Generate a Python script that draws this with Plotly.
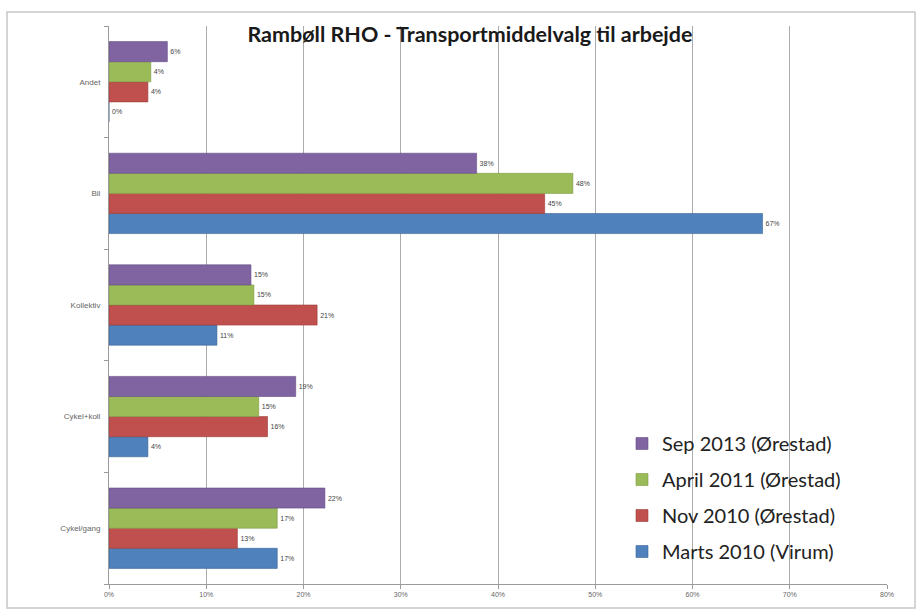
import plotly.graph_objects as go

categories = ["Cykel/gang", "Cykel+koll", "Kollektiv", "Bil", "Andet"]
series_names = ["Marts 2010 (Virum)", "Nov 2010 (Ørestad)", "April 2011 (Ørestad)", "Sep 2013 (Ørestad)"]
marts_2010 = [0.173, 0.040, 0.111, 0.672, 0.000]
nov_2010 = [0.132, 0.163, 0.214, 0.448, 0.040]
april_2011 = [0.173, 0.154, 0.149, 0.477, 0.043]
sep_2013 = [0.222, 0.192, 0.146, 0.378, 0.060]
x_ticks = [0, 0.1, 0.2, 0.3, 0.4, 0.5, 0.6, 0.7, 0.8]

series_values = [marts_2010, nov_2010, april_2011, sep_2013]
colors = ["#4F81BD", "#C0504D", "#9BBB59", "#8064A2"]
edges = ["#3A6496", "#9C3B38", "#7D9A44", "#654E84"]

fig = go.Figure()
for i, (name, vals) in enumerate(zip(series_names, series_values)):
    fig.add_trace(go.Bar(
        y=categories, x=vals, name=name, orientation="h",
        marker=dict(color=colors[i], line=dict(color=edges[i], width=0.6)),
        texttemplate="%{x:.0%}", textposition="outside",
        textfont=dict(size=7, color="#444444", family="Liberation Sans"),
        cliponaxis=False, legendgroup=name, legendrank=1000 - i,
    ))

W, H = 922, 610
L, R, T, B = 109, 887, 26, 584
def px(x):
    return (x - L) / (R - L)
def py(y):
    return (B - y) / (B - T)

fig.update_layout(
    width=W, height=H,
    margin=dict(l=L, r=W - R, t=T, b=H - B),
    paper_bgcolor="white", plot_bgcolor="white",
    barmode="group", bargap=0.28, bargroupgap=0,
    showlegend=True,
    legend=dict(
        x=px(622), y=py(424), xanchor="left", yanchor="top",
        traceorder="grouped", tracegroupgap=7,
        font=dict(family="Lato", size=20, color="#222222"),
        bgcolor="rgba(0,0,0,0)", itemwidth=30,
    ),
    title=dict(
        text="<b>Rambøll RHO - Transportmiddelvalg til arbejde</b>",
        xref="paper", x=px(470), xanchor="center", y=1 - 34 / H, yanchor="middle",
        font=dict(family="Lato", size=21.5, color="#1a1a1a"),
    ),
    xaxis=dict(
        range=[0, 0.8], tickvals=x_ticks, tickformat=".0%",
        showgrid=True, gridcolor="#ababab", gridwidth=1,
        showline=True, linecolor="#9a9a9a", linewidth=1,
        ticks="outside", ticklen=4, tickcolor="#9a9a9a",
        tickfont=dict(size=7, color="#666666", family="Liberation Sans"),
        zeroline=False, fixedrange=True,
    ),
    yaxis=dict(
        categoryorder="array", categoryarray=categories,
        showline=True, linecolor="#9a9a9a", linewidth=1,
        ticks="outside", ticklen=4, tickcolor="#9a9a9a", tickson="boundaries",
        tickfont=dict(size=8, color="#666666", family="Liberation Sans"),
        showgrid=False, ticklabelstandoff=6,
    ),
    shapes=[dict(
        type="rect", xref="paper", yref="paper",
        x0=px(7), x1=px(915), y0=py(608), y1=py(12),
        line=dict(color="#c8c8c8", width=1.5), fillcolor="rgba(0,0,0,0)", layer="below",
    )],
)

fig.write_html(
    "out.html",
    config={"displayModeBar": False},
    post_script="document.body.style.margin='0';document.body.style.overflow='hidden';",
)
